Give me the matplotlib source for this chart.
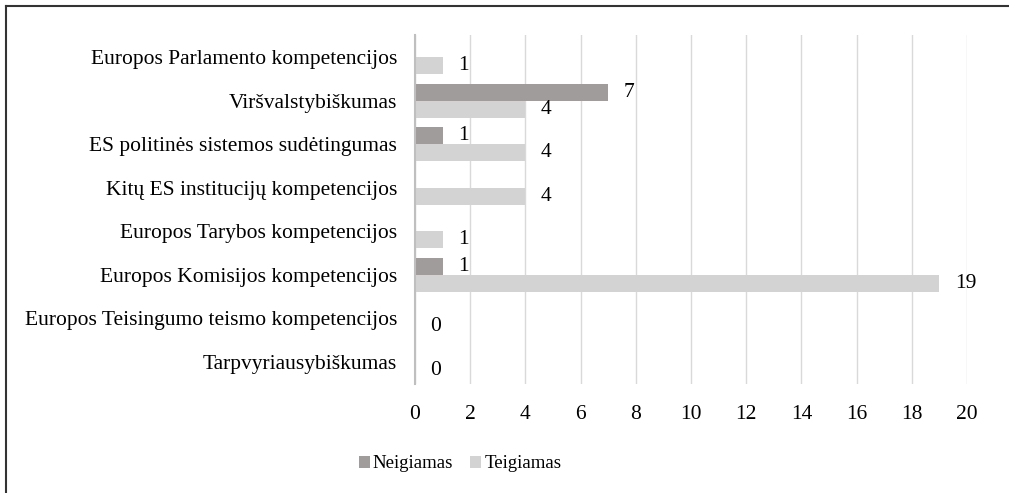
import matplotlib.pyplot as plt
import numpy as np
from matplotlib.lines import Line2D

categories = [
    "Europos Parlamento kompetencijos",
    "Viršvalstybiškumas",
    "ES politinės sistemos sudėtingumas",
    "Kitų ES institucijų kompetencijos",
    "Europos Tarybos kompetencijos",
    "Europos Komisijos kompetencijos",
    "Europos Teisingumo teismo kompetencijos",
    "Tarpvyriausybiškumas",
]
neigiamas = [0, 7, 1, 0, 0, 1, 0, 0]
teigiamas = [1, 4, 4, 4, 1, 19, 0, 0]
xticks = list(range(0, 21, 2))

plt.rcParams['font.family'] = ['Liberation Serif', 'DejaVu Serif']
fs = 15.5
plt.rcParams['font.size'] = fs

fig = plt.figure(figsize=(10.09, 4.93), dpi=100)
ax = fig.add_axes([0.4113, 0.2217, 0.5471, 0.7067])

dark = '#a09c9b'
light = '#d3d3d3'
h = 0.39
pos = np.arange(len(categories))

b1 = ax.barh(pos - h / 2, neigiamas, height=h, color=dark, label='Neigiamas', zorder=2)
b2 = ax.barh(pos + h / 2, teigiamas, height=h, color=light, label='Teigiamas', zorder=2)

# no labels on empty negative bars; zero labels only on the last two rows
lab1 = [str(v) if v else '' for v in neigiamas]
lab2 = [str(v) if (v or i >= 6) else '' for i, v in enumerate(teigiamas)]
ax.bar_label(b1, labels=lab1, padding=11, fontsize=fs)
ax.bar_label(b2, labels=lab2, padding=11, fontsize=fs)

ax.set_ylim(len(categories) - 0.5, -0.5)
ax.set_xlim(0, 20)
ax.set_xticks(xticks)
ax.set_yticks(pos)
ax.set_yticklabels(categories)
ax.tick_params(axis='both', length=0, labelsize=fs)
ax.tick_params(axis='x', pad=15)
ax.tick_params(axis='y', pad=13)

ax.grid(axis='x', color='#d9d9d9', lw=1, zorder=0)
for s in ['top', 'right', 'bottom']:
    ax.spines[s].set_visible(False)
ax.spines['left'].set_color('#bfbfbf')
ax.spines['left'].set_linewidth(1.5)
ax.spines['left'].set_zorder(3)

fig.legend(loc='center', bbox_to_anchor=(460 / 1009, 1 - 464 / 493), ncol=2, frameon=False,
           fontsize=13.5, handlelength=0.6, handleheight=0.6, handletextpad=0.15, columnspacing=0.9)

# frame of the cropped picture: only top and left edges remain
fig.add_artist(Line2D([6 / 1009, 1], [1 - 5.5 / 493] * 2, transform=fig.transFigure, color='#333333', lw=1.5))
fig.add_artist(Line2D([6 / 1009] * 2, [0, 1 - 5.5 / 493], transform=fig.transFigure, color='#333333', lw=1.5))

fig.savefig('out.png', dpi=100)
